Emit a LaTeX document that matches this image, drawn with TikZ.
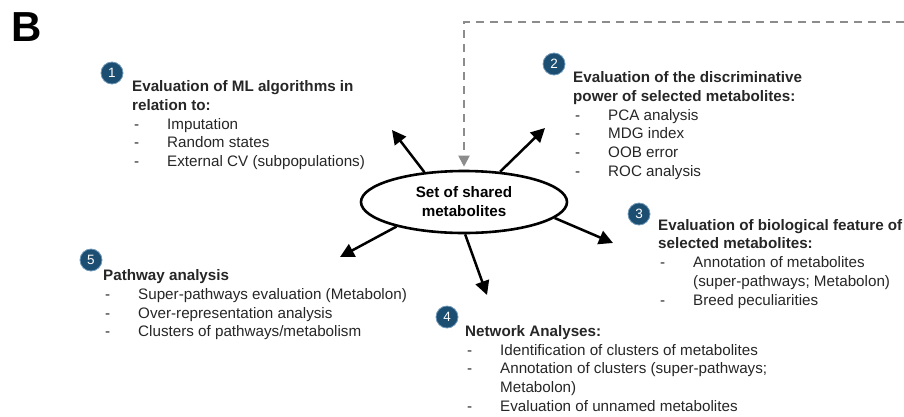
\documentclass[tikz,border=0pt]{standalone}
\usepackage{fontspec}
\setmainfont{Liberation Sans}
\newfontfamily\panelfont{Liberation Sans}
\usetikzlibrary{shapes.geometric,arrows.meta,positioning}
\definecolor{numblue}{HTML}{1C4E72}
\definecolor{numring}{HTML}{7098B8}
\definecolor{loopgray}{HTML}{8C8C8C}
\definecolor{txtgray}{HTML}{262626}
\newcommand{\itm}[1]{\hspace*{2pt}\makebox[33pt][l]{-}#1}
\newcommand{\cnt}[1]{\hspace*{35pt}#1}

\begin{document}
\begin{tikzpicture}[
            x=1pt, y=-1pt,
            numdot/.style={circle, draw=numring, line width=0.8pt, fill=numblue, text=white, minimum size=22pt, inner sep=0pt, font=\fontsize{13.5}{13.5}\selectfont},
            infobox/.style={anchor=base west, align=left, inner sep=0pt, text=txtgray, font=\fontsize{15.2}{18.8}\selectfont},
            hub/.style={ellipse, draw, line width=2.6pt, minimum width=206pt, minimum height=62pt, align=center, font=\fontsize{15.2}{19}\selectfont\bfseries},
            arrow/.style={-{Triangle[length=14pt,width=14pt]}, line width=2.5pt},
            looparrow/.style={-{Triangle[length=11pt,width=11pt]}, line width=2pt, loopgray, dash pattern=on 8pt off 6pt}
        ]
            \useasboundingbox (0,0) rectangle (904,416);
            \node[anchor=north west, inner sep=0pt, font=\panelfont\fontsize{42}{42}\selectfont\bfseries] (panel) at (11,12) {B};

            \node[hub] (shared) at (464,202) {Set of shared\\metabolites};

            % the five blocks of analyses (anchored at the baseline of their last line)
            \node[infobox] (ml) at (132,166.7) {\textbf{Evaluation of ML algorithms in}\\\textbf{relation to:}\\
                \itm{Imputation}\\\itm{Random states}\\\itm{External CV (subpopulations)}};
            \node[infobox] (disc) at (573,176.5) {\textbf{Evaluation of the discriminative}\\\textbf{power of selected metabolites:}\\
                \itm{PCA analysis}\\\itm{MDG index}\\\itm{OOB error}\\\itm{ROC analysis}};
            \node[infobox] (bio) at (658,305.2) {\textbf{Evaluation of biological feature of}\\\textbf{selected metabolites:}\\
                \itm{Annotation of metabolites}\\\cnt{(super-pathways; Metabolon)}\\\itm{Breed peculiarities}};
            \node[infobox] (net) at (465,411.5) {\textbf{Network Analyses:}\\
                \itm{Identification of clusters of metabolites}\\\itm{Annotation of clusters (super-pathways;}\\\cnt{Metabolon)}\\\itm{Evaluation of unnamed metabolites}};
            \node[infobox] (path) at (103,336.9) {\textbf{Pathway analysis}\\
                \itm{Super-pathways evaluation (Metabolon)}\\\itm{Over-representation analysis}\\\itm{Clusters of pathways/metabolism}};

            \node[numdot] (n1) at (112,73) {1};
            \node[numdot] (n2) at (554,64) {2};
            \node[numdot] (n3) at (639,214) {3};
            \node[numdot] (n4) at (447,317) {4};
            \node[numdot] (n5) at (91,260) {5};

            % arrow ends
            \coordinate (t1) at (392,130);
            \coordinate (t2) at (545,128);
            \coordinate (t3) at (613,243);
            \coordinate (t4) at (487,295);
            \coordinate (t5) at (340,257);
            \coordinate (loopin) at (904,22);

            \draw[arrow] (shared.143) -- (t1);
            \draw[arrow] (shared.40) -- (t2);
            \draw[arrow] (shared.-10) -- (t3);
            \draw[arrow] (shared.-88) -- (t4);
            \draw[arrow] (shared.200) -- (t5);
            \draw[looparrow] (loopin) -| ([yshift=3pt]shared.north);
        \end{tikzpicture}
\end{document}
